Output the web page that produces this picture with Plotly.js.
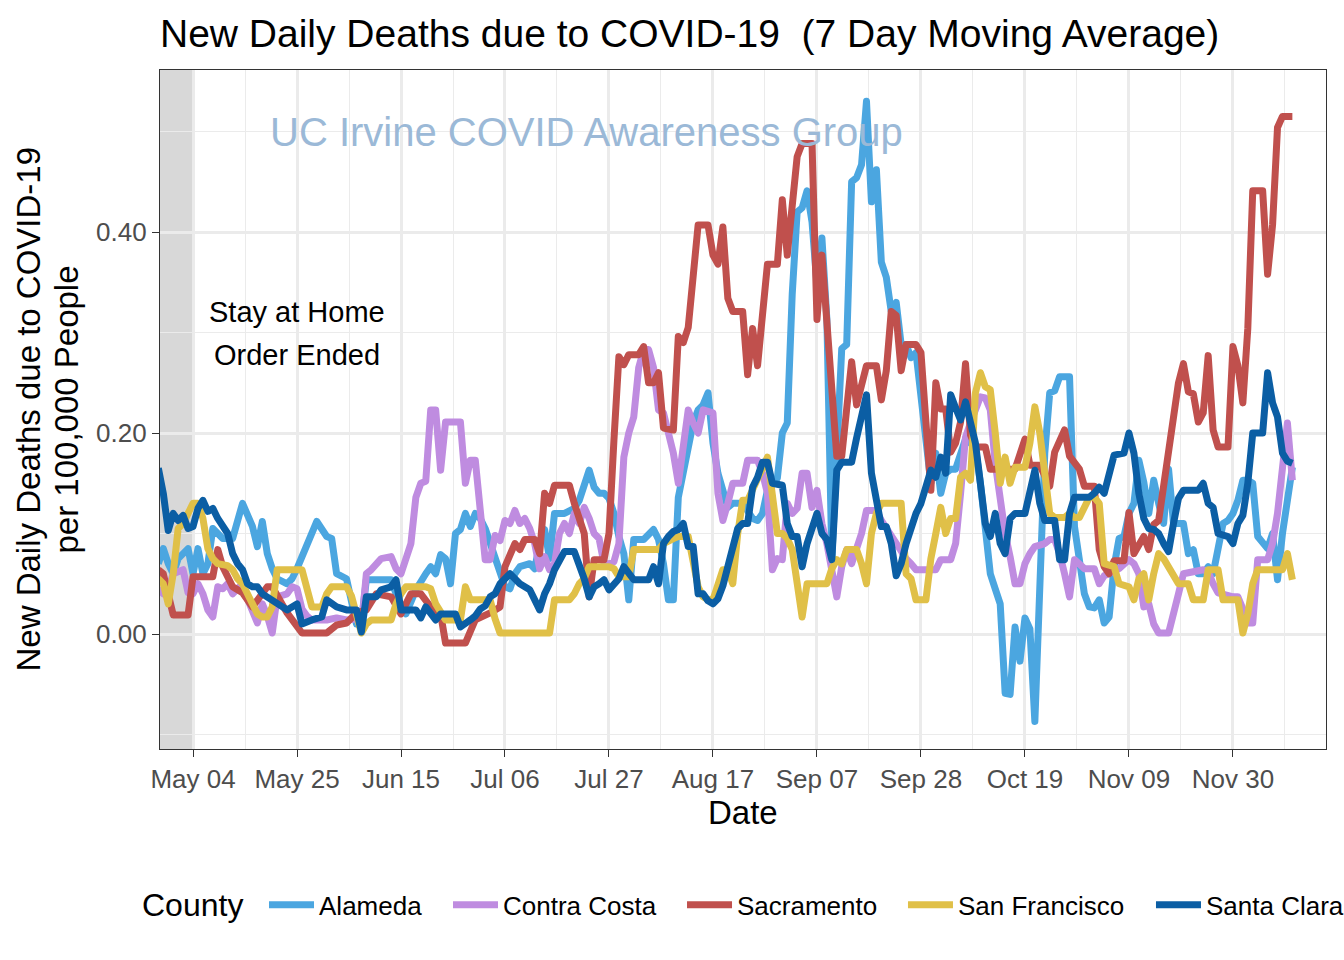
<!DOCTYPE html>
<html>
<head>
<meta charset="utf-8">
<script src="https://cdn.plot.ly/plotly-3.0.1.min.js"></script>
<style>
  html, body { margin: 0; padding: 0; background: #fff; }
  #chart { width: 1344px; height: 960px; }
  .js-line { stroke-linejoin: round; }
</style>
</head>
<body>
<div id="chart"></div>
<script>
// ---------------- DATA ----------------
const counties = ['Alameda', 'Contra Costa', 'Sacramento', 'San Francisco', 'Santa Clara'];
const countyColors = ['#4BA6E0', '#BF8CE0', '#C0504D', '#E0C048', '#0B5EA4'];

const alamedaDates = ['04-27','04-28','04-29','04-30','05-01','05-02','05-03','05-04','05-05','05-06','05-07','05-08','05-09','05-10','05-12','05-14','05-16','05-17','05-18','05-19','05-20','05-21','05-23','05-24','05-25','05-26','05-28','05-29','05-31','06-01','06-02','06-04','06-06','06-07','06-08','06-13','06-14','06-15','06-16','06-18','06-20','06-21','06-22','06-23','06-24','06-25','06-26','06-27','06-28','06-29','06-30','07-01','07-02','07-03','07-04','07-06','07-07','07-08','07-09','07-11','07-12','07-13','07-14','07-15','07-16','07-18','07-20','07-21','07-23','07-24','07-25','07-26','07-27','07-28','07-29','07-30','07-31','08-01','08-03','08-04','08-05','08-06','08-07','08-08','08-09','08-10','08-11','08-12','08-13','08-14','08-15','08-16','08-17','08-18','08-19','08-20','08-21','08-23','08-25','08-26','08-27','08-28','08-29','08-30','08-31','09-01','09-02','09-03','09-04','09-05','09-06','09-07','09-08','09-09','09-10','09-11','09-12','09-13','09-14','09-15','09-16','09-17','09-18','09-19','09-20','09-21','09-22','09-23','09-24','09-25','09-26','09-27','09-28','09-29','09-30','10-01','10-02','10-03','10-04','10-05','10-06','10-07','10-08','10-09','10-10','10-11','10-12','10-13','10-14','10-15','10-16','10-17','10-18','10-19','10-20','10-21','10-22','10-23','10-24','10-25','10-26','10-28','10-29','10-30','10-31','11-01','11-02','11-03','11-04','11-05','11-06','11-07','11-08','11-09','11-10','11-11','11-12','11-13','11-14','11-15','11-16','11-17','11-18','11-20','11-21','11-22','11-23','11-24','11-25','11-26','11-27','11-28','11-29','11-30','12-01','12-02','12-03','12-04','12-05','12-06','12-07','12-08','12-09','12-10','12-11','12-12'];
const alamedaValues = [0.07,0.085,0.07,0.06,0.075,0.08,0.085,0.06,0.085,0.06,0.07,0.105,0.10,0.095,0.095,0.13,0.107,0.087,0.112,0.08,0.065,0.055,0.05,0.055,0.065,0.077,0.104,0.112,0.097,0.095,0.06,0.055,0.01,0.011,0.054,0.054,0.04,0.027,0.02,0.044,0.06,0.067,0.06,0.079,0.075,0.05,0.10,0.104,0.12,0.107,0.12,0.115,0.105,0.09,0.08,0.047,0.045,0.06,0.067,0.07,0.065,0.09,0.104,0.075,0.12,0.12,0.125,0.133,0.163,0.146,0.14,0.14,0.135,0.12,0.097,0.08,0.034,0.094,0.094,0.1,0.104,0.094,0.07,0.034,0.034,0.136,0.16,0.19,0.21,0.223,0.228,0.24,0.19,0.16,0.14,0.126,0.13,0.13,0.115,0.113,0.12,0.143,0.15,0.155,0.2,0.21,0.338,0.42,0.424,0.441,0.41,0.347,0.394,0.313,0.075,0.2,0.284,0.288,0.45,0.454,0.467,0.53,0.43,0.462,0.37,0.355,0.321,0.33,0.288,0.288,0.275,0.28,0.24,0.2,0.15,0.18,0.14,0.16,0.164,0.164,0.18,0.194,0.19,0.185,0.15,0.107,0.06,0.045,0.03,-0.059,-0.06,0.007,-0.027,0.016,0.005,-0.087,0.074,0.18,0.24,0.242,0.256,0.256,0.107,0.07,0.04,0.027,0.026,0.034,0.011,0.017,0.067,0.095,0.097,0.12,0.13,0.173,0.151,0.12,0.153,0.13,0.11,0.164,0.11,0.11,0.08,0.084,0.06,0.06,0.067,0.06,0.09,0.11,0.113,0.12,0.133,0.153,0.153,0.15,0.097,0.09,0.085,0.1,0.054,0.1,0.136,0.166];

const contraCostaDates = ['04-27','04-28','04-29','04-30','05-02','05-03','05-04','05-05','05-06','05-07','05-08','05-09','05-10','05-11','05-12','05-13','05-14','05-15','05-16','05-17','05-18','05-19','05-20','05-21','05-23','05-24','05-25','05-26','05-27','05-28','05-31','06-02','06-04','06-06','06-07','06-08','06-09','06-11','06-13','06-14','06-15','06-16','06-17','06-18','06-19','06-20','06-21','06-22','06-23','06-24','06-27','06-28','06-29','06-30','07-02','07-03','07-04','07-05','07-06','07-07','07-08','07-09','07-10','07-11','07-12','07-13','07-14','07-15','07-16','07-17','07-18','07-19','07-20','07-21','07-22','07-23','07-24','07-25','07-26','07-27','07-28','07-29','07-30','07-31','08-01','08-02','08-03','08-04','08-05','08-06','08-07','08-08','08-09','08-10','08-11','08-12','08-13','08-14','08-15','08-17','08-18','08-19','08-20','08-21','08-23','08-24','08-26','08-27','08-28','08-29','08-30','08-31','09-01','09-02','09-03','09-04','09-05','09-06','09-07','09-08','09-09','09-10','09-11','09-12','09-13','09-14','09-15','09-16','09-17','09-19','09-20','09-21','09-22','09-23','09-24','09-25','09-26','09-27','10-01','10-02','10-04','10-05','10-06','10-07','10-08','10-09','10-10','10-11','10-12','10-13','10-14','10-15','10-16','10-17','10-18','10-19','10-20','10-21','10-23','10-24','10-25','10-26','10-27','10-28','10-29','10-30','10-31','11-02','11-03','11-04','11-05','11-07','11-09','11-10','11-11','11-12','11-13','11-14','11-15','11-17','11-19','11-20','11-24','11-25','11-26','11-27','11-30','12-01','12-02','12-03','12-04','12-05','12-07','12-08','12-09','12-10','12-11','12-12'];
const contraCostaValues = [0.045,0.04,0.045,0.06,0.064,0.041,0.04,0.05,0.04,0.024,0.017,0.047,0.045,0.05,0.04,0.045,0.05,0.035,0.021,0.011,0.03,0.018,0.001,0.037,0.04,0.047,0.045,0.025,0.018,0.014,0.014,0.016,0.014,0.015,0.007,0.06,0.064,0.075,0.077,0.065,0.06,0.078,0.09,0.136,0.15,0.152,0.223,0.223,0.163,0.211,0.211,0.15,0.173,0.173,0.074,0.074,0.098,0.093,0.113,0.11,0.123,0.11,0.115,0.105,0.09,0.065,0.077,0.064,0.07,0.1,0.11,0.1,0.12,0.11,0.126,0.115,0.1,0.095,0.07,0.07,0.072,0.09,0.176,0.2,0.216,0.265,0.283,0.283,0.265,0.223,0.22,0.2,0.18,0.15,0.19,0.223,0.21,0.2,0.223,0.22,0.14,0.113,0.13,0.15,0.15,0.173,0.173,0.16,0.14,0.064,0.075,0.074,0.13,0.12,0.125,0.16,0.16,0.126,0.143,0.11,0.09,0.06,0.037,0.067,0.084,0.07,0.085,0.1,0.123,0.123,0.113,0.105,0.097,0.09,0.08,0.075,0.07,0.064,0.064,0.074,0.074,0.09,0.14,0.196,0.21,0.225,0.236,0.235,0.223,0.17,0.13,0.1,0.077,0.05,0.05,0.07,0.08,0.087,0.09,0.094,0.094,0.08,0.06,0.037,0.074,0.07,0.065,0.065,0.05,0.058,0.06,0.065,0.074,0.07,0.06,0.027,0.03,0.01,0.001,0.001,0.04,0.06,0.064,0.062,0.05,0.041,0.037,0.037,0.025,0.011,0.011,0.074,0.074,0.09,0.12,0.16,0.21,0.153];

const sacramentoDates = ['04-27','04-28','04-30','05-03','05-04','05-08','05-09','05-10','05-12','05-14','05-16','05-19','05-20','05-23','05-26','05-31','06-02','06-04','06-06','06-08','06-10','06-13','06-15','06-17','06-19','06-21','06-23','06-24','06-28','06-30','07-03','07-05','07-06','07-08','07-09','07-10','07-12','07-13','07-14','07-15','07-16','07-19','07-20','07-22','07-23','07-24','07-26','07-27','07-28','07-29','07-30','07-31','08-02','08-03','08-04','08-05','08-06','08-07','08-09','08-10','08-11','08-12','08-14','08-16','08-17','08-18','08-19','08-20','08-21','08-23','08-24','08-25','08-26','08-28','08-30','08-31','09-01','09-03','09-04','09-06','09-07','09-08','09-11','09-12','09-14','09-15','09-17','09-19','09-20','09-21','09-22','09-23','09-24','09-25','09-27','09-28','09-29','09-30','10-01','10-02','10-03','10-04','10-05','10-06','10-07','10-08','10-09','10-11','10-12','10-17','10-19','10-20','10-22','10-24','10-25','10-27','10-28','10-30','10-31','11-02','11-03','11-04','11-05','11-06','11-08','11-09','11-10','11-12','11-13','11-14','11-15','11-17','11-19','11-20','11-21','11-22','11-23','11-24','11-25','11-26','11-27','11-29','11-30','12-01','12-02','12-03','12-04','12-06','12-07','12-08','12-09','12-10','12-12'];
const sacramentoValues = [0.064,0.06,0.019,0.019,0.057,0.057,0.084,0.067,0.047,0.041,0.027,0.047,0.047,0.021,0.001,0.001,0.009,0.011,0.021,0.024,0.04,0.037,0.02,0.04,0.04,0.027,0.02,-0.009,-0.009,0.014,0.021,0.027,0.067,0.09,0.084,0.094,0.094,0.08,0.14,0.13,0.148,0.148,0.13,0.10,0.037,0.074,0.074,0.10,0.193,0.276,0.268,0.278,0.278,0.286,0.25,0.25,0.26,0.205,0.203,0.296,0.29,0.305,0.407,0.407,0.377,0.368,0.405,0.334,0.321,0.321,0.258,0.304,0.267,0.368,0.368,0.432,0.377,0.475,0.488,0.488,0.313,0.377,0.177,0.177,0.271,0.228,0.267,0.267,0.233,0.262,0.321,0.317,0.262,0.288,0.288,0.28,0.211,0.143,0.25,0.224,0.224,0.181,0.19,0.211,0.269,0.198,0.186,0.186,0.164,0.164,0.194,0.168,0.168,0.147,0.181,0.203,0.177,0.164,0.147,0.147,0.084,0.067,0.06,0.073,0.073,0.121,0.08,0.097,0.084,0.109,0.113,0.177,0.25,0.269,0.241,0.239,0.211,0.22,0.277,0.203,0.186,0.186,0.286,0.267,0.23,0.304,0.441,0.441,0.358,0.407,0.504,0.515,0.515];

const sanFranciscoDates = ['04-27','04-28','04-29','04-30','05-01','05-02','05-03','05-04','05-05','05-06','05-07','05-08','05-09','05-11','05-12','05-13','05-14','05-15','05-16','05-17','05-18','05-19','05-20','05-21','05-26','05-27','05-28','05-30','05-31','06-01','06-04','06-05','06-06','06-07','06-08','06-09','06-13','06-14','06-15','06-16','06-20','06-21','06-22','06-23','06-24','06-27','06-28','06-29','07-03','07-04','07-05','07-15','07-16','07-19','07-20','07-21','07-22','07-23','07-27','07-28','07-29','07-31','08-01','08-06','08-07','08-09','08-10','08-12','08-13','08-14','08-15','08-16','08-17','08-18','08-19','08-20','08-21','08-22','08-23','08-24','08-25','08-26','08-27','08-28','08-29','08-30','08-31','09-01','09-02','09-03','09-04','09-05','09-09','09-10','09-11','09-12','09-13','09-15','09-16','09-17','09-18','09-19','09-20','09-24','09-25','09-26','09-27','09-29','09-30','10-01','10-02','10-03','10-04','10-05','10-06','10-07','10-08','10-09','10-10','10-11','10-12','10-13','10-14','10-15','10-16','10-17','10-19','10-20','10-21','10-22','10-23','10-24','10-25','10-27','10-28','10-29','10-30','10-31','11-01','11-02','11-03','11-04','11-06','11-07','11-09','11-10','11-11','11-12','11-13','11-14','11-15','11-16','11-18','11-19','11-21','11-22','11-24','11-25','11-27','11-28','12-01','12-02','12-03','12-04','12-05','12-10','12-11','12-12'];
const sanFranciscoValues = [0.055,0.05,0.03,0.06,0.105,0.11,0.12,0.13,0.13,0.115,0.085,0.075,0.07,0.068,0.064,0.055,0.05,0.04,0.03,0.02,0.017,0.017,0.027,0.064,0.064,0.047,0.027,0.027,0.04,0.047,0.047,0.038,0.02,0.001,0.01,0.014,0.014,0.03,0.04,0.047,0.047,0.045,0.03,0.022,0.014,0.014,0.047,0.034,0.034,0.015,0.001,0.001,0.034,0.034,0.04,0.05,0.055,0.067,0.067,0.065,0.057,0.057,0.084,0.084,0.09,0.095,0.097,0.097,0.07,0.047,0.037,0.034,0.034,0.05,0.064,0.064,0.05,0.1,0.133,0.133,0.145,0.156,0.165,0.176,0.14,0.1,0.1,0.095,0.084,0.045,0.017,0.05,0.05,0.065,0.074,0.07,0.084,0.084,0.07,0.05,0.1,0.12,0.13,0.13,0.06,0.055,0.034,0.034,0.075,0.1,0.126,0.1,0.115,0.115,0.156,0.16,0.153,0.24,0.26,0.246,0.243,0.2,0.15,0.176,0.15,0.166,0.166,0.19,0.226,0.2,0.16,0.12,0.116,0.116,0.12,0.116,0.116,0.125,0.136,0.136,0.13,0.07,0.067,0.05,0.047,0.034,0.055,0.06,0.034,0.06,0.08,0.075,0.06,0.05,0.05,0.034,0.034,0.064,0.064,0.034,0.034,0.001,0.02,0.05,0.064,0.064,0.08,0.054];

const santaClaraDates = ['04-27','04-28','04-29','04-30','05-01','05-02','05-03','05-04','05-05','05-06','05-07','05-08','05-09','05-10','05-11','05-12','05-13','05-14','05-15','05-16','05-17','05-18','05-19','05-20','05-21','05-23','05-25','05-26','05-28','05-30','05-31','06-02','06-04','06-06','06-07','06-08','06-10','06-11','06-13','06-14','06-15','06-18','06-19','06-20','06-22','06-23','06-26','06-27','06-29','06-30','07-01','07-02','07-03','07-04','07-05','07-06','07-07','07-08','07-09','07-11','07-12','07-13','07-14','07-15','07-16','07-17','07-18','07-20','07-21','07-22','07-23','07-24','07-25','07-26','07-27','07-28','07-29','07-30','07-31','08-01','08-04','08-05','08-06','08-07','08-08','08-09','08-10','08-11','08-12','08-13','08-14','08-15','08-16','08-17','08-18','08-19','08-20','08-21','08-22','08-23','08-24','08-25','08-26','08-27','08-28','08-29','08-31','09-01','09-02','09-03','09-04','09-05','09-06','09-07','09-08','09-09','09-10','09-11','09-12','09-14','09-15','09-16','09-17','09-18','09-19','09-20','09-21','09-22','09-23','09-24','09-25','09-26','09-27','09-28','09-29','09-30','10-01','10-02','10-03','10-04','10-05','10-06','10-07','10-08','10-09','10-10','10-11','10-12','10-13','10-14','10-15','10-16','10-17','10-19','10-20','10-21','10-22','10-23','10-25','10-26','10-27','10-28','10-29','11-01','11-02','11-03','11-04','11-05','11-06','11-08','11-09','11-10','11-11','11-12','11-13','11-14','11-15','11-16','11-17','11-18','11-19','11-20','11-23','11-24','11-25','11-26','11-27','11-29','11-30','12-01','12-02','12-03','12-04','12-06','12-07','12-08','12-09','12-10','12-11','12-12'];
const santaClaraValues = [0.165,0.14,0.103,0.12,0.113,0.118,0.105,0.107,0.125,0.133,0.122,0.125,0.115,0.108,0.1,0.08,0.07,0.064,0.05,0.047,0.047,0.04,0.037,0.035,0.03,0.024,0.03,0.01,0.014,0.017,0.034,0.027,0.024,0.024,0.002,0.037,0.037,0.044,0.047,0.054,0.024,0.024,0.016,0.027,0.014,0.02,0.02,0.007,0.014,0.018,0.025,0.028,0.037,0.04,0.05,0.056,0.06,0.055,0.05,0.044,0.035,0.024,0.04,0.05,0.064,0.075,0.082,0.082,0.07,0.055,0.037,0.047,0.05,0.054,0.044,0.05,0.055,0.067,0.06,0.054,0.054,0.067,0.05,0.09,0.097,0.102,0.104,0.11,0.087,0.087,0.04,0.04,0.033,0.03,0.035,0.048,0.067,0.085,0.105,0.11,0.11,0.146,0.156,0.171,0.171,0.15,0.148,0.11,0.097,0.097,0.067,0.09,0.105,0.12,0.1,0.094,0.074,0.163,0.171,0.171,0.195,0.215,0.238,0.16,0.13,0.107,0.107,0.09,0.058,0.07,0.09,0.107,0.12,0.13,0.145,0.163,0.156,0.176,0.16,0.238,0.225,0.213,0.231,0.21,0.19,0.15,0.11,0.097,0.12,0.09,0.08,0.115,0.12,0.12,0.14,0.163,0.13,0.113,0.113,0.074,0.074,0.12,0.136,0.136,0.14,0.146,0.14,0.16,0.178,0.18,0.2,0.18,0.14,0.115,0.105,0.104,0.1,0.09,0.082,0.11,0.135,0.143,0.143,0.15,0.13,0.126,0.1,0.097,0.09,0.11,0.118,0.15,0.2,0.2,0.26,0.23,0.216,0.18,0.172,0.17];

const seriesDates = [alamedaDates, contraCostaDates, sacramentoDates, sanFranciscoDates, santaClaraDates];
const seriesValues = [alamedaValues, contraCostaValues, sacramentoValues, sanFranciscoValues, santaClaraValues];

const tickDates = ['2020-05-04','2020-05-25','2020-06-15','2020-07-06','2020-07-27','2020-08-17','2020-09-07','2020-09-28','2020-10-19','2020-11-09','2020-11-30'];
const tickLabels = ['May 04','May 25','Jun 15','Jul 06','Jul 27','Aug 17','Sep 07','Sep 28','Oct 19','Nov 09','Nov 30'];
const minorDates = ['2020-05-14 12:00','2020-06-04 12:00','2020-06-25 12:00','2020-07-16 12:00','2020-08-06 12:00','2020-08-27 12:00','2020-09-17 12:00','2020-10-08 12:00','2020-10-29 12:00','2020-11-19 12:00','2020-12-10 12:00'];
const yTicks = [0, 0.2, 0.4];
const yTickLabels = ['0.00', '0.20', '0.40'];
const yMinor = [-0.1, 0.1, 0.3, 0.5];
const stayHomeEnded = '2020-05-04';

// ---------------- FIGURE ----------------
const FONT = '"Liberation Sans", Arial, Helvetica, sans-serif';
const legendIds = ['legend', 'legend2', 'legend3', 'legend4', 'legend5'];
const legendX = [0.0892, 0.2470, 0.4477, 0.6372, 0.8499];

const traces = counties.map((name, i) => ({
  type: 'scatter',
  mode: 'lines',
  name: name,
  x: seriesDates[i].map(d => '2020-' + d),
  y: seriesValues[i],
  line: { color: countyColors[i], width: 7 },
  legend: legendIds[i],
  showlegend: true,
  hoverinfo: 'x+y+name'
}));

const gridMajor = '#EBEBEB';
const layout = {
  width: 1344, height: 960,
  showlegend: true,
  margin: { l: 160, r: 18, t: 70, b: 211, autoexpand: false },
  paper_bgcolor: '#FFFFFF',
  plot_bgcolor: '#FFFFFF',
  font: { family: FONT, color: '#000000' },
  title: {
    text: 'New Daily Deaths due to COVID-19 \u00a0(7 Day Moving Average)',
    x: 160 / 1344, xref: 'container', xanchor: 'left',
    y: 1 - 33 / 960, yref: 'container', yanchor: 'middle',
    font: { size: 39, color: '#000000', family: FONT }
  },
  xaxis: {
    type: 'date',
    range: ['2020-04-27 08:00', '2020-12-18 19:00'],
    tickmode: 'array', tickvals: tickDates, ticktext: tickLabels,
    tickfont: { size: 26, color: '#4D4D4D', family: FONT },
    ticks: 'outside', ticklen: 7, tickwidth: 1.4, tickcolor: '#333333',
    showgrid: true, gridcolor: gridMajor, gridwidth: 2.6,
    minor: { tickmode: 'array', tickvals: minorDates, showgrid: true, gridcolor: gridMajor, gridwidth: 1.3, ticks: '' },
    showline: true, linecolor: '#333333', linewidth: 1.4, mirror: true,
    zeroline: false, automargin: false, fixedrange: true
  },
  yaxis: {
    range: [-0.1144, 0.5612],
    tickmode: 'array', tickvals: yTicks, ticktext: yTickLabels,
    tickfont: { size: 26, color: '#4D4D4D', family: FONT },
    ticks: 'outside', ticklen: 7, tickwidth: 1.4, tickcolor: '#333333',
    showgrid: true, gridcolor: gridMajor, gridwidth: 2.6,
    minor: { tickmode: 'array', tickvals: yMinor, showgrid: true, gridcolor: gridMajor, gridwidth: 1.3, ticks: '' },
    showline: true, linecolor: '#333333', linewidth: 1.4, mirror: true,
    zeroline: false, automargin: false, fixedrange: true
  },
  shapes: [{
    type: 'rect', layer: 'below',
    xref: 'x', x0: '2020-04-20', x1: stayHomeEnded,
    yref: 'paper', y0: 0, y1: 1,
    fillcolor: 'rgba(127,127,127,0.3)', line: { width: 0 }
  }],
  annotations: [
    { text: 'UC Irvine COVID Awareness Group', xref: 'x', yref: 'y', x: '2020-07-22 10:00', y: 0.5,
      showarrow: false, xanchor: 'center', yanchor: 'middle', font: { size: 40, color: '#9BB9D7', family: FONT } },
    { text: 'Stay at Home', xref: 'x', yref: 'y', x: '2020-05-25', y: 0.3204,
      showarrow: false, xanchor: 'center', yanchor: 'middle', font: { size: 29, color: '#000000', family: FONT } },
    { text: 'Order Ended', xref: 'x', yref: 'y', x: '2020-05-25', y: 0.2776,
      showarrow: false, xanchor: 'center', yanchor: 'middle', font: { size: 29, color: '#000000', family: FONT } },
    { text: 'Date', xref: 'paper', yref: 'paper', x: 0.5, y: -0.0928,
      showarrow: false, xanchor: 'center', yanchor: 'middle', font: { size: 33, color: '#000000', family: FONT } },
    { text: 'New Daily Deaths due to COVID-19', xref: 'paper', yref: 'paper', x: -0.1132, y: 0.5, textangle: -90,
      showarrow: false, xanchor: 'center', yanchor: 'middle', font: { size: 33, color: '#000000', family: FONT } },
    { text: 'per 100,000 People', xref: 'paper', yref: 'paper', x: -0.0806, y: 0.5, textangle: -90,
      showarrow: false, xanchor: 'center', yanchor: 'middle', font: { size: 33, color: '#000000', family: FONT } },
    { text: 'County', xref: 'paper', yref: 'paper', x: -0.01715, y: -0.2297,
      showarrow: false, xanchor: 'left', yanchor: 'middle', font: { size: 32, color: '#000000', family: FONT } }
  ],
  hovermode: 'closest'
};

legendIds.forEach((id, i) => {
  layout[id] = {
    visible: true,
    orientation: 'h', x: legendX[i], xanchor: 'left', y: -0.2297, yanchor: 'middle',
    bgcolor: 'rgba(0,0,0,0)', borderwidth: 0, itemwidth: 45,
    font: { size: 26, color: '#000000', family: FONT },
    itemclick: false, itemdoubleclick: false
  };
});

Plotly.newPlot('chart', traces, layout, { displayModeBar: false, responsive: false, staticPlot: false });
</script>
</body>
</html>
